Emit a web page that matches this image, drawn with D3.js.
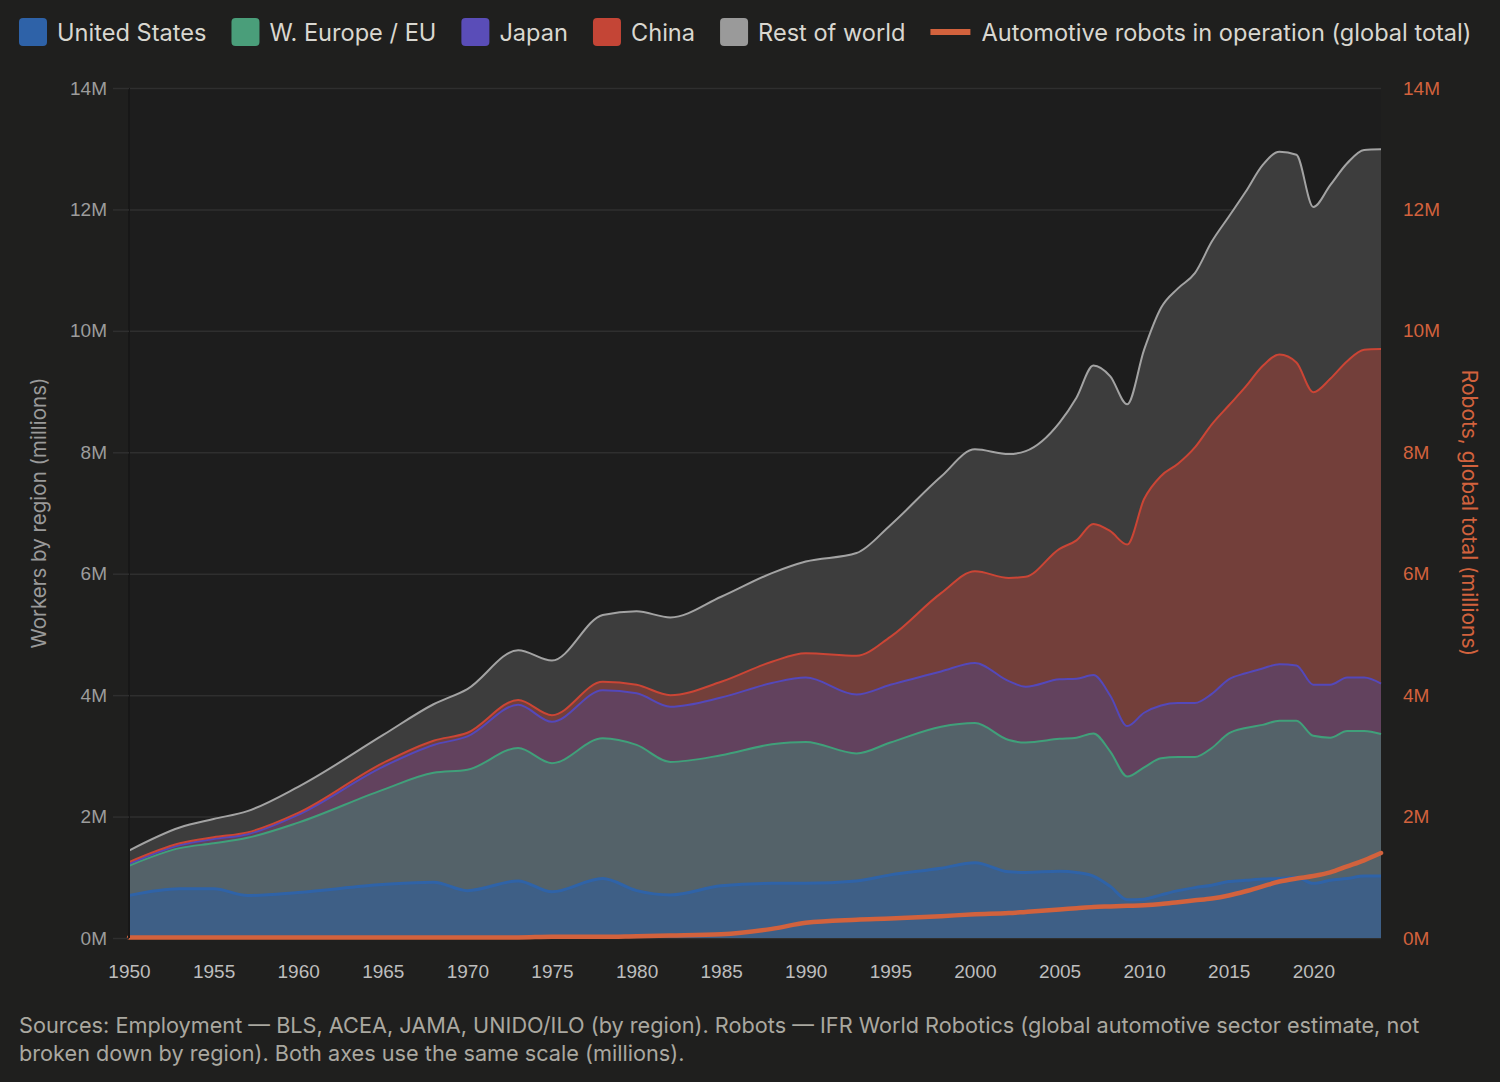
<!DOCTYPE html>
<html>
<head>
<meta charset="utf-8">
<script src="https://cdn.jsdelivr.net/npm/d3@7"></script>
<style>
  body { margin: 0; background: #1f1f1e; }
  svg { display: block; font-family: Inter, "Noto Sans", sans-serif; }
</style>
</head>
<body>
<svg id="chart" width="1500" height="1082"></svg>
<script>
// Workers by region (millions) and robots (millions)
const years = [1950, 1953, 1955, 1957, 1960, 1965, 1968, 1970, 1973, 1975, 1978, 1980, 1982, 1985, 1988, 1990,
  1993, 1995, 1998, 2000, 2002, 2003, 2005, 2006, 2007, 2008, 2009, 2010, 2011, 2012, 2013, 2014, 2015, 2016,
  2017, 2018, 2019, 2020, 2021, 2022, 2023, 2024];
const unitedStates = [0.70, 0.81, 0.81, 0.70, 0.75, 0.88, 0.92, 0.78, 0.94, 0.76, 0.98, 0.78, 0.71, 0.86, 0.90, 0.90,
  0.94, 1.04, 1.15, 1.24, 1.09, 1.08, 1.10, 1.08, 1.02, 0.85, 0.63, 0.64, 0.71, 0.78, 0.83, 0.87, 0.93, 0.95,
  0.97, 0.98, 1.00, 0.90, 0.95, 0.98, 1.02, 1.02];
const westernEurope = [0.49, 0.67, 0.75, 0.95, 1.15, 1.56, 1.80, 1.99, 2.19, 2.12, 2.31, 2.40, 2.19, 2.15, 2.29, 2.33,
  2.10, 2.18, 2.33, 2.30, 2.17, 2.14, 2.18, 2.22, 2.35, 2.22, 2.03, 2.17, 2.25, 2.20, 2.15, 2.26, 2.44, 2.51,
  2.54, 2.60, 2.58, 2.43, 2.35, 2.43, 2.39, 2.34];
const japan = [0.03, 0.05, 0.07, 0.06, 0.13, 0.38, 0.46, 0.55, 0.71, 0.68, 0.79, 0.85, 0.91, 0.95, 1.01, 1.06,
  0.97, 0.95, 0.91, 0.99, 0.97, 0.92, 0.98, 0.97, 0.96, 0.92, 0.83, 0.90, 0.87, 0.89, 0.89, 0.89, 0.89, 0.90,
  0.93, 0.93, 0.91, 0.84, 0.87, 0.88, 0.88, 0.83];
const china = [0.03, 0.03, 0.03, 0.03, 0.03, 0.06, 0.07, 0.06, 0.08, 0.11, 0.14, 0.14, 0.19, 0.26, 0.35, 0.40,
  0.64, 0.79, 1.29, 1.51, 1.70, 1.81, 2.15, 2.28, 2.49, 2.71, 2.99, 3.52, 3.78, 3.94, 4.21, 4.44, 4.51, 4.72,
  4.98, 5.10, 4.99, 4.82, 5.04, 5.21, 5.40, 5.51];
const restOfWorld = [0.19, 0.26, 0.30, 0.35, 0.43, 0.46, 0.60, 0.72, 0.82, 0.90, 1.10, 1.21, 1.28, 1.40, 1.46, 1.51,
  1.69, 1.84, 1.92, 2.01, 2.04, 2.07, 2.08, 2.35, 2.61, 2.55, 2.31, 2.46, 2.77, 2.89, 2.87, 3.01, 3.11, 3.21,
  3.31, 3.34, 3.42, 3.05, 3.19, 3.26, 3.29, 3.29];
const robots = [0.01, 0.01, 0.01, 0.01, 0.01, 0.01, 0.01, 0.01, 0.01, 0.02, 0.02, 0.03, 0.04, 0.06, 0.15, 0.25,
  0.30, 0.32, 0.36, 0.39, 0.41, 0.43, 0.47, 0.49, 0.51, 0.52, 0.53, 0.54, 0.56, 0.59, 0.62, 0.65, 0.70, 0.77,
  0.85, 0.93, 0.98, 1.02, 1.08, 1.18, 1.28, 1.40];

const seriesNames = ['United States', 'W. Europe / EU', 'Japan', 'China', 'Rest of world'];
const robotsName = 'Automotive robots in operation (global total)';
const yTicks = [0, 2, 4, 6, 8, 10, 12, 14];
const xTicks = [1950, 1955, 1960, 1965, 1970, 1975, 1980, 1985, 1990, 1995, 2000, 2005, 2010, 2015, 2020];

const keys = ['us', 'eu', 'jp', 'cn', 'row'];
const lineColors = ['#2f63a8', '#40a07a', '#5448ba', '#cb4535', '#a3a3a3'];
const fillColors = ['#3e5f86', '#546269', '#62425e', '#733f3a', '#3d3d3d'];
const swatchColors = ['#2e62a8', '#4a9e7a', '#5a4db8', '#c44536', '#9a9a9a'];
const robotColor = '#d2623d';

const table = years.map((yr, i) => ({
  year: yr, us: unitedStates[i], eu: westernEurope[i], jp: japan[i], cn: china[i], row: restOfWorld[i], robots: robots[i]
}));

const margin = {top: 88, right: 119, bottom: 144, left: 129};
const W = 1500, H = 1082;
const width = W - margin.left - margin.right;
const height = H - margin.top - margin.bottom;

const svg = d3.select('#chart');
const g = svg.append('g').attr('transform', `translate(${margin.left},${margin.top})`);

const x = d3.scaleLinear().domain([1950, 2024]).range([0, width]);
const y = d3.scaleLinear().domain([0, 14]).range([height, 0]);

// plot background
g.append('rect').attr('width', width).attr('height', height).attr('fill', '#1d1d1d');

// grid
g.append('g')
  .call(d3.axisLeft(y).tickValues(yTicks).tickSize(-width).tickFormat(''))
  .call(s => s.select('.domain').remove())
  .call(s => s.selectAll('line').attr('stroke', '#2f2f2f').attr('stroke-width', 1.5));

// stacked areas
const stack = d3.stack().keys(keys);
const layers = stack(table);

const area = d3.area()
  .x(d => x(d.data.year))
  .y0(d => y(d[0]))
  .y1(d => y(d[1]))
  .curve(d3.curveMonotoneX);

const topLine = d3.line()
  .x(d => x(d.data.year))
  .y(d => y(d[1]))
  .curve(d3.curveMonotoneX);

g.selectAll('.layer')
  .data(layers)
  .enter().append('path')
    .attr('class', 'layer')
    .attr('fill', (d, i) => fillColors[i])
    .attr('d', area);

g.selectAll('.layer-line')
  .data(layers)
  .enter().append('path')
    .attr('class', 'layer-line')
    .attr('fill', 'none')
    .attr('stroke', (d, i) => lineColors[i])
    .attr('stroke-width', (d, i) => i === 0 ? 3 : 2)
    .attr('d', topLine);

// robots line
g.append('path')
  .datum(table)
  .attr('fill', 'none')
  .attr('stroke', robotColor)
  .attr('stroke-width', 4.5)
  .attr('stroke-linecap', 'round')
  .attr('d', d3.line().x(d => x(d.year)).y(d => y(d.robots)).curve(d3.curveMonotoneX));

// left axis line
g.append('line')
  .attr('x1', 0).attr('x2', 0).attr('y1', 0).attr('y2', height)
  .attr('stroke', '#171717').attr('stroke-width', 2);

// left axis
g.append('g')
  .call(d3.axisLeft(y).tickValues(yTicks).tickSize(16).tickPadding(6).tickFormat(d => d + 'M'))
  .call(s => s.select('.domain').remove())
  .call(s => s.selectAll('line').attr('stroke', '#2f2f2f').attr('stroke-width', 1.5))
  .call(s => s.selectAll('text').attr('fill', '#9c9c9c').style('font-size', '19px'));

// right axis
g.append('g')
  .attr('transform', `translate(${width},0)`)
  .call(d3.axisRight(y).tickValues(yTicks).tickSize(0).tickPadding(22).tickFormat(d => d + 'M'))
  .call(s => s.select('.domain').remove())
  .call(s => s.selectAll('text').attr('fill', robotColor).style('font-size', '19px'));

// x axis
g.append('g')
  .attr('transform', `translate(0,${height})`)
  .call(d3.axisBottom(x).tickValues(xTicks).tickSize(0).tickPadding(27).tickFormat(d3.format('d')))
  .call(s => s.select('.domain').remove())
  .call(s => s.selectAll('text').attr('fill', '#bdbdbd').style('font-size', '19px'));

// axis titles
svg.append('text')
  .attr('transform', `translate(46,${margin.top + height / 2}) rotate(-90)`)
  .attr('text-anchor', 'middle')
  .attr('fill', '#9a9a9a')
  .style('font-size', '20.5px')
  .text('Workers by region (millions)');

svg.append('text')
  .attr('transform', `translate(1462,${margin.top + height / 2}) rotate(90)`)
  .attr('text-anchor', 'middle')
  .attr('fill', robotColor)
  .style('font-size', '21px')
  .text('Robots, global total (millions)');

// legend
const legend = svg.append('g').attr('transform', 'translate(19,18)');
let lx = 0;
seriesNames.forEach((name, i) => {
  legend.append('rect')
    .attr('x', lx).attr('y', 0).attr('width', 28).attr('height', 28).attr('rx', 4)
    .attr('fill', swatchColors[i]);
  const t = legend.append('text')
    .attr('x', lx + 38).attr('y', 23)
    .attr('fill', '#d9d7d0')
    .style('font-size', '23.6px')
    .text(name);
  lx += 38 + t.node().getComputedTextLength() + 25;
});
legend.append('line')
  .attr('x1', lx).attr('x2', lx + 40).attr('y1', 14).attr('y2', 14)
  .attr('stroke', robotColor).attr('stroke-width', 6);
legend.append('text')
  .attr('x', lx + 51).attr('y', 23)
  .attr('fill', '#d9d7d0')
  .style('font-size', '23.6px')
  .text(robotsName);

// footer
const notes = [
  'Sources: Employment — BLS, ACEA, JAMA, UNIDO/ILO (by region). Robots — IFR World Robotics (global automotive sector estimate, not',
  'broken down by region). Both axes use the same scale (millions).'
];
svg.selectAll('.note')
  .data(notes)
  .enter().append('text')
    .attr('class', 'note')
    .attr('x', 19)
    .attr('y', (d, i) => 1033 + i * 28)
    .attr('fill', '#aaa8a0')
    .style('font-size', '21.7px')
    .text(d => d);
</script>
</body>
</html>
